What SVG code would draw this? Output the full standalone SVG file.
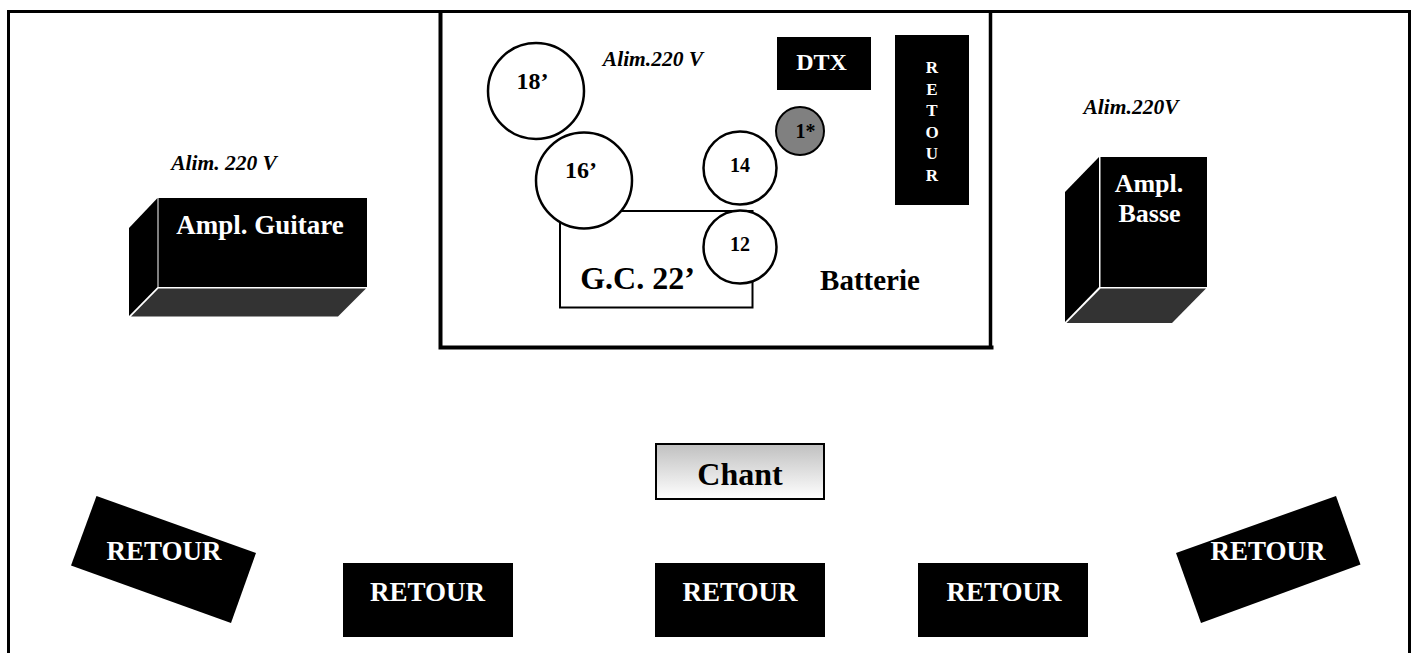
<svg xmlns="http://www.w3.org/2000/svg" width="1416" height="653" viewBox="0 0 1416 653">
<defs><linearGradient id="g" x1="0" y1="0" x2="0" y2="1"><stop offset="0" stop-color="#c0c0c0"/><stop offset="1" stop-color="#ffffff"/></linearGradient></defs>
<style>
text{font-family:"Liberation Serif","Times New Roman",serif;font-weight:bold;text-anchor:middle}
.w{fill:#fff}.k{fill:#000}
.i{font-style:italic;font-size:21.500px;fill:#000}
.c{fill:#fff;stroke:#000;stroke-width:2.500}
.b{fill:#000}
.d{fill:#333}
.r{font-size:27px;fill:#fff}
.a{font-size:27px;fill:#fff}
</style>
<rect width="1416" height="653" fill="#fff"/>
<g id="frame"><path d="M8.500 653V11.500H1409.500V653" fill="none" stroke="#000" stroke-width="3"/></g>
<g id="drum-riser"><path d="M440.500 11V347.500H993.500" fill="none" stroke="#000" stroke-width="4"/><path d="M990.500 11V347" fill="none" stroke="#000" stroke-width="3.500"/></g>
<g id="gc"><rect x="560" y="211" width="192.500" height="96.500" fill="#fff" stroke="#000" stroke-width="2"/><text x="637.500" y="289" font-size="32" class="k">G.C. 22’</text></g>
<g id="t18"><ellipse cx="536" cy="91" rx="48" ry="48" class="c"/><text x="532.500" y="89" font-size="24" class="k">18’</text></g>
<g id="t16"><ellipse cx="584" cy="180.500" rx="48" ry="48" class="c"/><text x="581" y="178" font-size="24" class="k">16’</text></g>
<g id="t14"><ellipse cx="740" cy="168" rx="36.500" ry="36.500" class="c"/><text x="740" y="171.500" font-size="20" class="k">14</text></g>
<g id="t12"><ellipse cx="740" cy="247" rx="36.500" ry="36.500" class="c"/><text x="740" y="250.500" font-size="20" class="k">12</text></g>
<g id="c1"><ellipse cx="800" cy="131" rx="24" ry="24" fill="#808080" stroke="#000" stroke-width="2"/><text x="805.500" y="138" font-size="20" class="k">1*</text></g>
<g id="dtx"><rect x="777" y="37" width="94" height="53" class="b"/><text x="821.500" y="69.500" font-size="24" class="w">DTX</text></g>
<g id="retour-v"><rect x="895" y="35" width="74" height="170" class="b"/>
<text font-size="17" class="w"><tspan x="932" y="73">R</tspan><tspan x="932" y="94.500">E</tspan><tspan x="932" y="116">T</tspan><tspan x="932" y="138">O</tspan><tspan x="932" y="159">U</tspan><tspan x="932" y="181">R</tspan></text></g>
<g id="alim-d"><text x="653" y="66" class="i">Alim.220 V</text></g>
<g id="batterie"><text x="870" y="289.500" font-size="29" class="k">Batterie</text></g>
<g id="amp-g"><rect x="158.500" y="198" width="208.500" height="89" class="b"/><polygon points="157.500,198 157.500,287 129,316 129,228" class="b"/><polygon points="158.500,288.500 366,288.500 338,316.500 131,316.500" class="d"/><text x="260" y="234" class="a">Ampl. Guitare</text></g>
<g id="alim-g"><text x="224" y="170" class="i">Alim. 220 V</text></g>
<g id="amp-b"><rect x="1100.500" y="157" width="106.500" height="130" class="b"/><polygon points="1099,157 1099,287 1065,322 1065,192" class="b"/><polygon points="1100.500,288.500 1206,288.500 1172,323 1066.500,323" class="d"/><text x="1149" y="192" font-size="26" class="w">Ampl.</text><text x="1149.500" y="222" font-size="26" class="w">Basse</text></g>
<g id="alim-b"><text x="1131" y="114" class="i">Alim.220V</text></g>
<g id="chant"><rect x="656" y="444" width="168" height="55" fill="url(#g)" stroke="#000" stroke-width="2"/><text x="740" y="484.500" font-size="32" class="k">Chant</text></g>
<g id="ret1"><polygon points="96.500,496 256,553 231,623 71,565.500" class="b"/><text x="164" y="559.500" class="r">RETOUR</text></g>
<g id="ret2"><rect x="343" y="563" width="170" height="74" class="b"/><text x="427.500" y="600.500" class="r">RETOUR</text></g>
<g id="ret3"><rect x="655" y="563" width="170" height="74" class="b"/><text x="740" y="600.500" class="r">RETOUR</text></g>
<g id="ret4"><rect x="918" y="563" width="170" height="74" class="b"/><text x="1004" y="600.500" class="r">RETOUR</text></g>
<g id="ret5"><polygon points="1176,553 1336,496 1360.500,564.500 1201,623" class="b"/><text x="1268" y="559.500" class="r">RETOUR</text></g>
</svg>
